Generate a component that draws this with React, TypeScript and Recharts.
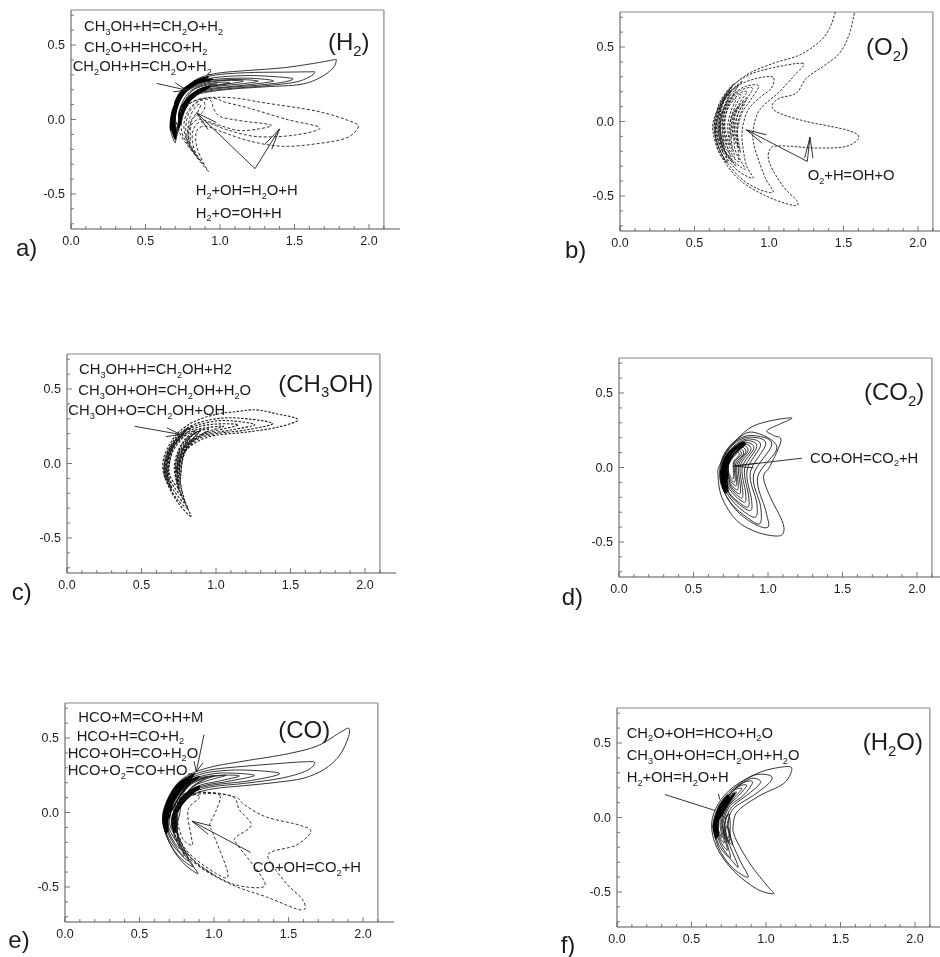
import React from "react";
import { LineChart, Line, XAxis, YAxis, ReferenceLine } from "recharts";

type Pt = [number, number];

const xMajor = [0, 0.5, 1, 1.5, 2];
const yMajor = [-0.5, 0, 0.5];
const xTicks = [0, 0.1, 0.2, 0.3, 0.4, 0.5, 0.6, 0.7, 0.8, 0.9, 1, 1.1, 1.2, 1.3, 1.4, 1.5, 1.6, 1.7, 1.8, 1.9, 2, 2.1];
const yTicks = [-0.7, -0.6, -0.5, -0.4, -0.3, -0.2, -0.1, 0, 0.1, 0.2, 0.3, 0.4, 0.5, 0.6, 0.7];

// panel a) H2
const h2Solid: Pt[][] = [
  [[0.7,-0.157],[0.675,-0.1],[0.665,-0.045],[0.672,0.03],[0.69,0.09],[0.743,0.19],[0.843,0.27],[0.978,0.31],[1.2,0.33],[1.425,0.347],[1.65,0.38],[1.76,0.4],[1.78,0.4],[1.76,0.347],[1.67,0.28],[1.537,0.235],[1.31,0.22],[1.09,0.205],[0.955,0.19],[0.843,0.165],[0.765,0.1],[0.725,0],[0.705,-0.09]],
  [[0.705,-0.135],[0.682,-0.09],[0.672,-0.04],[0.678,0.03],[0.697,0.09],[0.75,0.19],[0.85,0.265],[0.98,0.3],[1.2,0.315],[1.45,0.318],[1.6,0.32],[1.637,0.318],[1.6,0.285],[1.5,0.25],[1.3,0.226],[1.09,0.21],[0.95,0.195],[0.84,0.172],[0.77,0.105],[0.728,0],[0.71,-0.08]],
  [[0.708,-0.115],[0.688,-0.07],[0.679,-0.03],[0.684,0.03],[0.703,0.09],[0.757,0.19],[0.86,0.258],[1,0.285],[1.2,0.295],[1.4,0.285],[1.49,0.273],[1.42,0.25],[1.25,0.23],[1.05,0.215],[0.93,0.2],[0.84,0.178],[0.775,0.11],[0.733,0.01],[0.716,-0.07]],
  [[0.712,-0.095],[0.694,-0.05],[0.686,-0.02],[0.691,0.04],[0.71,0.1],[0.765,0.19],[0.87,0.25],[1,0.272],[1.2,0.277],[1.36,0.26],[1.25,0.24],[1.08,0.222],[0.93,0.207],[0.84,0.184],[0.78,0.118],[0.738,0.02],[0.722,-0.06]],
  [[0.716,-0.075],[0.698,-0.03],[0.694,0.03],[0.717,0.1],[0.775,0.19],[0.88,0.245],[1.02,0.265],[1.15,0.268],[1.257,0.257],[1.15,0.24],[1,0.225],[0.9,0.21],[0.83,0.18],[0.78,0.115],[0.743,0.03],[0.728,-0.04]],
  [[0.722,-0.055],[0.7,0],[0.703,0.05],[0.728,0.12],[0.785,0.195],[0.89,0.24],[1,0.26],[1.1,0.262],[1.157,0.257],[1.08,0.243],[0.96,0.225],[0.87,0.205],[0.81,0.165],[0.77,0.09],[0.745,0.02],[0.732,-0.03]],
  [[0.735,-0.03],[0.722,0.03],[0.745,0.11],[0.8,0.19],[0.89,0.232],[1,0.25],[1.067,0.246],[0.98,0.232],[0.88,0.212],[0.82,0.17],[0.775,0.09],[0.75,0.02]],
  [[0.74,0.02],[0.76,0.11],[0.81,0.19],[0.89,0.226],[0.98,0.24],[0.9,0.218],[0.835,0.18],[0.785,0.1]],
];
const h2Bands: Pt[][] = [
  [[0.7,0.12],[0.75,0.2],[0.84,0.252],[0.95,0.27],[0.84,0.24],[0.76,0.185],[0.705,0.09]],
  [[0.68,0.04],[0.71,0.13],[0.765,0.205],[0.87,0.258],[0.78,0.2],[0.72,0.12],[0.69,0.04]],
  [[0.7,-0.13],[0.675,-0.05],[0.685,0.05],[0.73,0.16],[0.82,0.24],[0.92,0.285],[0.83,0.255],[0.745,0.17],[0.7,0.06],[0.69,-0.04]],
  [[0.705,-0.11],[0.683,-0.04],[0.692,0.05],[0.738,0.16],[0.825,0.235],[0.9,0.27],[0.83,0.245],[0.75,0.165],[0.707,0.06],[0.697,-0.03]],
  [[0.668,-0.06],[0.675,0.02],[0.71,0.12],[0.78,0.21],[0.72,0.13],[0.682,0.03],[0.676,-0.06]],
  [[0.725,-0.05],[0.735,0.03],[0.775,0.12],[0.84,0.18],[0.92,0.21],[0.84,0.19],[0.77,0.13],[0.728,0.05]],
  [[0.73,-0.04],[0.74,0.03],[0.78,0.115],[0.845,0.175],[0.93,0.22],[0.85,0.195],[0.783,0.135],[0.744,0.055]],
  [[0.735,-0.03],[0.745,0.03],[0.785,0.11],[0.85,0.17],[0.9,0.2],[0.85,0.185],[0.79,0.125],[0.75,0.045]],
];
const h2Dashed: Pt[][] = [
  [[0.92,-0.347],[0.81,-0.21],[0.73,-0.09],[0.73,0.02],[0.8,0.11],[0.91,0.145],[1.09,0.145],[1.31,0.11],[1.65,0.056],[1.87,-0.01],[1.928,-0.05],[1.85,-0.123],[1.67,-0.16],[1.425,-0.18],[1.2,-0.145],[1,-0.078],[0.9,-0.045],[0.843,-0.078],[0.843,-0.18],[0.888,-0.29]],
  [[0.89,-0.3],[0.8,-0.19],[0.745,-0.09],[0.745,0.01],[0.79,0.1],[0.88,0.14],[0.97,0.14],[1.04,0.115],[1.2,0.075],[1.45,0],[1.67,-0.056],[1.5,-0.105],[1.25,-0.115],[1.05,-0.07],[0.93,-0.025],[0.86,-0.02],[0.82,-0.07],[0.815,-0.15],[0.84,-0.23]],
  [[0.86,-0.27],[0.79,-0.17],[0.76,-0.08],[0.765,0.01],[0.81,0.09],[0.88,0.135],[0.94,0.125],[0.955,0.08],[1,0.02],[1.15,-0.01],[1.347,-0.04],[1.15,-0.075],[1,-0.04],[0.91,-0.01],[0.85,0],[0.8,-0.05],[0.79,-0.14]],
  [[0.83,-0.23],[0.78,-0.14],[0.77,-0.06],[0.785,0.03],[0.83,0.1],[0.88,0.13],[0.9,0.09],[0.875,0.04],[0.83,0.02],[0.79,-0.05],[0.78,-0.13]],
  [[0.8,-0.16],[0.785,-0.07],[0.8,0.02],[0.84,0.09],[0.87,0.1],[0.85,0.05],[0.81,0],[0.8,-0.07]],
];
const h2Leaders: Pt[][] = [
  [[0.575,0.242],[0.776,0.197]],
  [[0.7,0.246],[0.776,0.197],[0.687,0.186]],
  [[1.4,-0.063],[1.235,-0.33],[0.843,0.045]],
  [[0.92,-0.067],[0.843,0.045],[0.975,-0.02]],
  [[1.3,-0.168],[1.4,-0.063],[1.347,-0.2]],
];

// panel b) O2
const o2Open: Pt[][] = [
  [[1.446,0.735],[1.406,0.625],[1.34,0.536],[1.205,0.446],[1.027,0.39],[0.848,0.3125],[0.714,0.19],[0.636,0.033],[0.625,-0.078],[0.68,-0.234],[0.8,-0.39],[0.98,-0.5],[1.16,-0.5625],[1.19,-0.536],[1.094,-0.435],[1.004,-0.28],[1.004,-0.19],[1.07,-0.163],[1.317,-0.178],[1.518,-0.167],[1.603,-0.105],[1.518,-0.056],[1.25,0],[1.07,0.056],[1.02,0.105],[1.07,0.156],[1.183,0.19],[1.25,0.29],[1.36,0.368],[1.473,0.458],[1.54,0.59],[1.574,0.735]],
];
const o2Dashed: Pt[][] = [
  [[1.228,0.39],[1,0.355],[0.84,0.3],[0.72,0.2],[0.645,0.04],[0.635,-0.08],[0.69,-0.23],[0.8,-0.37],[0.92,-0.45],[1.027,-0.475],[0.98,-0.39],[0.9375,-0.28],[0.9,-0.16],[0.893,-0.06],[0.9375,0.078],[1.07,0.2],[1.17,0.31]],
  [[1.027,0.297],[0.92,0.29],[0.8,0.245],[0.71,0.16],[0.655,0.03],[0.645,-0.08],[0.7,-0.22],[0.79,-0.33],[0.893,-0.38],[0.85,-0.3],[0.826,-0.18],[0.82,-0.06],[0.86,0.078],[0.95,0.17],[1.016,0.223]],
  [[0.93,0.24],[0.84,0.235],[0.76,0.18],[0.695,0.09],[0.665,0],[0.665,-0.1],[0.71,-0.21],[0.79,-0.29],[0.84,-0.32],[0.8,-0.24],[0.79,-0.14],[0.79,-0.05],[0.82,0.06],[0.88,0.15]],
  [[0.89,0.22],[0.81,0.21],[0.74,0.15],[0.69,0.06],[0.675,-0.03],[0.685,-0.12],[0.73,-0.21],[0.8,-0.27],[0.77,-0.18],[0.765,-0.09],[0.775,0],[0.81,0.09]],
  [[0.85,0.2],[0.78,0.18],[0.72,0.11],[0.69,0.03],[0.685,-0.05],[0.7,-0.13],[0.745,-0.21],[0.77,-0.24],[0.75,-0.15],[0.745,-0.06],[0.76,0.03],[0.8,0.12]],
  [[0.81,0.18],[0.75,0.14],[0.71,0.08],[0.695,0],[0.7,-0.08],[0.73,-0.16],[0.755,-0.2],[0.735,-0.11],[0.735,-0.03],[0.76,0.07]],
  [[0.78,0.155],[0.73,0.1],[0.705,0.03],[0.705,-0.05],[0.725,-0.13],[0.74,-0.16],[0.725,-0.08],[0.725,-0.01],[0.745,0.07]],
  [[0.75,0.23],[0.69,0.14],[0.65,0.04],[0.64,-0.06],[0.665,-0.18],[0.72,-0.28],[0.7,-0.17],[0.675,-0.07],[0.68,0.03],[0.71,0.13]],
  [[0.72,0.19],[0.67,0.1],[0.65,0],[0.655,-0.1],[0.69,-0.21],[0.675,-0.12],[0.665,-0.03],[0.675,0.07]],
  [[0.79,0.24],[0.7,0.15],[0.66,0.05],[0.65,-0.05],[0.68,-0.16],[0.75,-0.27],[0.72,-0.17],[0.7,-0.07],[0.71,0.04],[0.74,0.14]],
  [[0.76,0.25],[0.68,0.15],[0.642,0.04],[0.634,-0.06],[0.66,-0.17],[0.71,-0.27],[0.66,-0.2],[0.64,-0.1],[0.65,0.02],[0.69,0.13]],
  [[0.82,0.27],[0.71,0.17],[0.668,0.06],[0.658,-0.05],[0.69,-0.17],[0.78,-0.3],[0.7,-0.2],[0.67,-0.07],[0.685,0.05],[0.73,0.16]],
  [[0.74,0.2],[0.69,0.12],[0.672,0.03],[0.67,-0.06],[0.695,-0.17],[0.69,-0.07],[0.69,0.02],[0.71,0.1]],
  [[0.83,0.13],[0.77,0.07],[0.75,0],[0.76,-0.09],[0.79,-0.17],[0.78,-0.08],[0.78,0],[0.8,0.07]],
  [[0.85,0.16],[0.79,0.09],[0.765,0],[0.775,-0.1],[0.81,-0.21],[0.79,-0.1],[0.79,-0.01],[0.82,0.08]],
  [[0.8,0.1],[0.755,0.05],[0.738,-0.02],[0.75,-0.11],[0.76,-0.02],[0.77,0.04]],
];
const o2Leaders: Pt[][] = [
  [[1.257,-0.268],[0.848,-0.056]],
  [[0.982,-0.089],[0.848,-0.056],[0.953,-0.145]],
  [[1.257,-0.268],[1.275,-0.105]],
  [[1.239,-0.246],[1.275,-0.105],[1.295,-0.246]],
];

// panel c) CH3OH
const ch3ohDashed: Pt[][] = [
  [[0.832,-0.353],[0.75,-0.27],[0.68,-0.15],[0.645,-0.05],[0.65,0.04],[0.69,0.13],[0.75,0.21],[0.85,0.28],[1,0.33],[1.15,0.35],[1.27,0.36],[1.4,0.335],[1.55,0.295],[1.42,0.245],[1.2,0.21],[1,0.19],[0.88,0.15],[0.79,0.08],[0.74,-0.01],[0.73,-0.09],[0.76,-0.2]],
  [[0.81,-0.3],[0.74,-0.24],[0.68,-0.14],[0.655,-0.05],[0.66,0.04],[0.7,0.13],[0.76,0.205],[0.86,0.265],[1,0.3],[1.15,0.305],[1.38,0.27],[1.2,0.225],[1,0.2],[0.88,0.165],[0.8,0.09],[0.75,0],[0.74,-0.09],[0.76,-0.19]],
  [[0.79,-0.26],[0.73,-0.2],[0.68,-0.12],[0.665,-0.05],[0.67,0.04],[0.71,0.13],[0.77,0.2],[0.87,0.255],[1,0.285],[1.12,0.285],[1.26,0.26],[1.1,0.225],[0.95,0.2],[0.87,0.17],[0.8,0.1],[0.76,0.01],[0.745,-0.08]],
  [[0.77,-0.21],[0.72,-0.16],[0.68,-0.09],[0.675,-0.03],[0.685,0.05],[0.72,0.13],[0.78,0.19],[0.88,0.245],[1,0.265],[1.15,0.26],[1,0.22],[0.9,0.19],[0.81,0.12],[0.77,0.02],[0.755,-0.07]],
  [[0.75,-0.16],[0.705,-0.11],[0.685,-0.05],[0.695,0.05],[0.73,0.13],[0.79,0.185],[0.88,0.23],[1.05,0.25],[0.92,0.205],[0.83,0.145],[0.78,0.04],[0.765,-0.06]],
  [[0.95,0.23],[0.85,0.2],[0.78,0.14],[0.74,0.07],[0.72,-0.02],[0.73,-0.1],[0.745,-0.12],[0.74,-0.03],[0.77,0.06],[0.82,0.13]],
  [[0.89,0.215],[0.81,0.165],[0.76,0.09],[0.73,0],[0.735,-0.06],[0.75,0.04],[0.79,0.11]],
  [[0.78,0.2],[0.7,0.12],[0.66,0.03],[0.655,-0.06],[0.69,-0.15],[0.67,-0.05],[0.675,0.03],[0.71,0.11]],
  [[0.8,0.22],[0.71,0.13],[0.67,0.04],[0.663,-0.06],[0.7,-0.17],[0.68,-0.06],[0.685,0.03],[0.72,0.12]],
  [[0.83,0.16],[0.77,0.1],[0.735,0.02],[0.73,-0.07],[0.75,-0.18],[0.745,-0.07],[0.75,0.02],[0.78,0.09]],
  [[0.81,0.24],[0.73,0.16],[0.68,0.07],[0.65,-0.03],[0.66,-0.1],[0.665,-0.02],[0.69,0.07],[0.74,0.15]],
  [[0.84,0.25],[0.75,0.18],[0.695,0.09],[0.672,0],[0.672,-0.1],[0.685,-0.01],[0.71,0.08],[0.765,0.16]],
  [[0.86,0.22],[0.79,0.16],[0.75,0.08],[0.74,-0.02],[0.74,-0.13],[0.755,-0.03],[0.765,0.07],[0.81,0.15]],
  [[0.9,0.23],[0.82,0.17],[0.775,0.09],[0.755,0],[0.76,-0.1],[0.77,0],[0.79,0.08],[0.84,0.16]],
];
const ch3ohLeaders: Pt[][] = [
  [[0.454,0.25],[0.76,0.195]],
  [[0.67,0.24],[0.76,0.195],[0.664,0.18]],
];

// panel d) CO2
const co2Solid: Pt[][] = [
  [[1.16,0.333],[1,0.31],[0.87,0.26],[0.75,0.14],[0.68,0.025],[0.664,-0.042],[0.69,-0.2],[0.79,-0.356],[0.926,-0.434],[1.06,-0.46],[1.105,-0.434],[1.094,-0.356],[1.016,-0.2],[0.97,-0.065],[1.016,0.013],[1.087,0.18],[1.038,0.215],[0.993,0.248],[1.083,0.293]],
  [[0.9,0.237],[1.06,0.136],[0.93,-0.065],[0.985,-0.29],[1,-0.4],[0.9,-0.375],[0.78,-0.28],[0.7,-0.15],[0.675,-0.04],[0.7,0.08],[0.78,0.18]],
  [[0.89,0.215],[1.026,0.159],[0.903,-0.05],[0.95,-0.26],[0.945,-0.378],[0.86,-0.335],[0.76,-0.25],[0.695,-0.14],[0.68,-0.04],[0.705,0.08],[0.78,0.175]],
  [[0.88,0.204],[0.985,0.16],[0.881,-0.035],[0.925,-0.24],[0.915,-0.333],[0.83,-0.29],[0.75,-0.21],[0.7,-0.12],[0.685,-0.04],[0.71,0.08],[0.785,0.17]],
  [[0.87,0.192],[0.95,0.15],[0.859,-0.02],[0.89,-0.22],[0.882,-0.289],[0.81,-0.25],[0.745,-0.185],[0.705,-0.11],[0.69,-0.04],[0.715,0.075],[0.79,0.16]],
  [[0.86,0.181],[0.925,0.14],[0.843,-0.01],[0.87,-0.19],[0.865,-0.266],[0.8,-0.23],[0.74,-0.17],[0.71,-0.1],[0.695,-0.035],[0.72,0.07],[0.79,0.15]],
  [[0.85,0.17],[0.905,0.13],[0.827,0],[0.85,-0.17],[0.845,-0.233],[0.79,-0.2],[0.745,-0.15],[0.715,-0.09],[0.7,-0.03],[0.725,0.065],[0.79,0.145]],
  [[0.845,0.159],[0.885,0.12],[0.814,0.01],[0.83,-0.15],[0.825,-0.204],[0.78,-0.175],[0.745,-0.13],[0.72,-0.08],[0.705,-0.03],[0.73,0.06],[0.79,0.135]],
  [[0.84,0.147],[0.865,0.11],[0.803,0.015],[0.815,-0.13],[0.81,-0.177],[0.77,-0.15],[0.745,-0.115],[0.725,-0.07],[0.71,-0.025],[0.735,0.06],[0.79,0.125]],
  [[0.83,0.136],[0.85,0.1],[0.792,0.02],[0.8,-0.11],[0.795,-0.15],[0.765,-0.13],[0.745,-0.1],[0.73,-0.06],[0.715,-0.02],[0.74,0.055],[0.785,0.115]],
  [[0.82,0.125],[0.835,0.09],[0.783,0.025],[0.79,-0.09],[0.785,-0.123],[0.76,-0.105],[0.745,-0.085],[0.733,-0.05],[0.72,-0.015],[0.745,0.05],[0.785,0.105]],
  [[0.81,0.114],[0.82,0.085],[0.774,0.03],[0.78,-0.07],[0.775,-0.098],[0.755,-0.085],[0.74,-0.065],[0.725,-0.01],[0.75,0.05],[0.785,0.095]],
  [[0.8,0.103],[0.805,0.08],[0.768,0.035],[0.77,-0.05],[0.765,-0.076],[0.748,-0.06],[0.73,-0.005],[0.752,0.05],[0.782,0.085]],
];
const co2Bands: Pt[][] = [
  [[0.8,0.15],[0.73,0.09],[0.69,0],[0.685,-0.08],[0.71,-0.16],[0.7,-0.06],[0.705,0.02],[0.74,0.09]],
  [[0.82,0.165],[0.74,0.1],[0.7,0.02],[0.692,-0.08],[0.72,-0.17],[0.71,-0.07],[0.712,0.02],[0.75,0.1]],
  [[0.84,0.17],[0.75,0.11],[0.71,0.03],[0.7,-0.06],[0.73,-0.16],[0.72,-0.06],[0.722,0.02],[0.76,0.1]],
  [[0.85,0.16],[0.76,0.11],[0.72,0.04],[0.71,-0.05],[0.715,-0.1],[0.73,-0.05],[0.735,0.03],[0.77,0.09]],
];
const co2Leaders: Pt[][] = [
  [[1.228,0.0626],[0.77,0.009]],
  [[0.926,0.029],[0.77,0.009],[0.903,-0.002]],
];

// panel e) CO
const coSolid: Pt[][] = [
  [[0.893,-0.41],[0.8,-0.345],[0.72,-0.24],[0.665,-0.11],[0.655,-0.02],[0.68,0.07],[0.72,0.15],[0.78,0.22],[0.87,0.27],[1,0.31],[1.2,0.345],[1.5,0.395],[1.7,0.45],[1.85,0.54],[1.906,0.564],[1.9,0.5],[1.84,0.38],[1.74,0.29],[1.6,0.23],[1.4,0.2],[1.2,0.18],[1,0.16],[0.87,0.125],[0.78,0.06],[0.725,-0.02],[0.72,-0.1],[0.75,-0.2],[0.82,-0.31]],
  [[0.86,-0.36],[0.77,-0.3],[0.7,-0.2],[0.665,-0.1],[0.662,-0.02],[0.685,0.07],[0.725,0.15],[0.785,0.215],[0.88,0.26],[1,0.29],[1.2,0.31],[1.45,0.33],[1.6,0.34],[1.676,0.335],[1.62,0.28],[1.45,0.23],[1.2,0.195],[1,0.175],[0.87,0.14],[0.785,0.075],[0.73,-0.01],[0.725,-0.1],[0.76,-0.2]],
  [[0.83,-0.32],[0.74,-0.24],[0.685,-0.15],[0.67,-0.06],[0.672,0.02],[0.695,0.08],[0.735,0.15],[0.795,0.21],[0.89,0.25],[1,0.275],[1.2,0.285],[1.44,0.262],[1.25,0.215],[1,0.185],[0.87,0.15],[0.79,0.085],[0.738,0],[0.732,-0.09]],
  [[0.8,-0.29],[0.73,-0.21],[0.685,-0.12],[0.678,-0.04],[0.7,0.07],[0.745,0.15],[0.805,0.205],[0.9,0.24],[1.05,0.265],[1.27,0.25],[1.1,0.21],[0.95,0.185],[0.86,0.155],[0.795,0.095],[0.745,0.01],[0.74,-0.1]],
  [[0.77,-0.24],[0.71,-0.16],[0.686,-0.07],[0.708,0.07],[0.755,0.15],[0.815,0.2],[0.91,0.235],[1.05,0.25],[1.17,0.245],[1.03,0.21],[0.9,0.18],[0.81,0.11],[0.752,0.02],[0.748,-0.1]],
  [[0.75,-0.19],[0.7,-0.11],[0.694,-0.03],[0.72,0.07],[0.77,0.15],[0.83,0.195],[0.92,0.23],[1.08,0.25],[0.96,0.215],[0.86,0.175],[0.8,0.1],[0.76,0.02],[0.755,-0.09]],
  [[0.73,-0.13],[0.702,-0.06],[0.73,0.06],[0.785,0.14],[0.84,0.195],[0.93,0.23],[1,0.245],[0.9,0.205],[0.83,0.15],[0.785,0.07],[0.765,-0.03]],
  [[0.745,0.02],[0.795,0.13],[0.85,0.19],[0.95,0.235],[0.87,0.18],[0.81,0.11],[0.77,0.03]],
];
const coBands: Pt[][] = [
  [[0.71,0.03],[0.75,0.12],[0.82,0.2],[0.9,0.24],[0.83,0.185],[0.77,0.11],[0.72,0.02]],
  [[0.69,-0.02],[0.715,0.07],[0.77,0.16],[0.85,0.22],[0.78,0.15],[0.725,0.07],[0.7,-0.03]],
  [[0.675,-0.13],[0.658,-0.05],[0.67,0.03],[0.71,0.12],[0.77,0.2],[0.87,0.26],[0.78,0.195],[0.72,0.115],[0.68,0.025],[0.67,-0.05]],
  [[0.68,-0.14],[0.667,-0.06],[0.678,0.02],[0.717,0.11],[0.78,0.19],[0.86,0.245],[0.79,0.185],[0.73,0.105],[0.69,0.02],[0.68,-0.05]],
  [[0.69,-0.13],[0.677,-0.05],[0.69,0.02],[0.73,0.11],[0.79,0.185],[0.85,0.23],[0.8,0.175],[0.74,0.1],[0.7,0.02],[0.688,-0.05]],
  [[0.72,-0.1],[0.722,-0.02],[0.76,0.06],[0.82,0.125],[0.9,0.16],[0.825,0.135],[0.77,0.075],[0.733,0],[0.728,-0.08]],
  [[0.73,-0.13],[0.73,-0.03],[0.767,0.05],[0.825,0.115],[0.9,0.17],[0.83,0.14],[0.775,0.08],[0.74,0.01],[0.736,-0.09]],
  [[0.74,-0.13],[0.737,-0.04],[0.775,0.04],[0.83,0.105],[0.9,0.175],[0.84,0.145],[0.78,0.085],[0.748,0.01],[0.745,-0.09]],
];
const coDashed: Pt[][] = [
  [[0.86,0.139],[1.127,0.11],[1.206,0.05],[1.35,-0.03],[1.575,-0.085],[1.649,-0.13],[1.55,-0.22],[1.385,-0.264],[1.37,-0.32],[1.485,-0.476],[1.597,-0.588],[1.586,-0.655],[1.35,-0.566],[1.127,-0.488],[0.904,-0.365],[0.77,-0.23],[0.725,-0.074],[0.736,0.038],[0.78,0.105]],
  [[1.127,0.105],[1.172,0.015],[1.25,-0.085],[1.15,-0.164],[1.15,-0.208],[1.306,-0.41],[1.33,-0.5],[1.127,-0.48],[0.92,-0.365],[0.785,-0.23],[0.735,-0.074],[0.746,0.04],[0.8,0.11],[0.95,0.135]],
  [[1.038,0.116],[1.015,0.015],[0.97,-0.085],[0.993,-0.14],[1.094,-0.414],[1.016,-0.41],[0.814,-0.253],[0.745,-0.074],[0.758,0.04],[0.814,0.105],[0.92,0.125]],
  [[0.904,0.105],[0.825,0.015],[0.848,-0.164],[0.854,-0.22],[0.79,-0.175],[0.75,-0.03],[0.765,0.082],[0.814,0.116]],
  [[0.8,-0.25],[0.87,-0.33],[1,-0.42],[0.9,-0.36],[0.81,-0.26]],
];
const coLeaders: Pt[][] = [
  [[1.246,-0.268],[0.852,-0.058]],
  [[0.982,-0.09],[0.852,-0.058],[0.96,-0.145]],
  [[0.933,0.523],[0.881,0.273]],
  [[0.866,0.345],[0.881,0.273],[0.926,0.333]],
];

// panel f) H2O
const h2oSolid: Pt[][] = [
  [[1.172,0.315],[1.139,0.342],[0.96,0.304],[0.78,0.204],[0.68,0.092],[0.635,-0.043],[0.669,-0.199],[0.78,-0.356],[0.937,-0.479],[1.05,-0.512],[1.016,-0.468],[0.893,-0.311],[0.792,-0.132],[0.781,-0.043],[0.814,0.047],[0.96,0.148],[1.116,0.226]],
  [[1.027,0.282],[0.915,0.282],[0.78,0.192],[0.69,0.09],[0.647,-0.043],[0.68,-0.199],[0.77,-0.333],[0.88,-0.4],[0.825,-0.288],[0.758,-0.132],[0.747,-0.043],[0.78,0.058],[0.915,0.148],[1.027,0.237]],
  [[0.96,0.248],[0.893,0.26],[0.78,0.181],[0.703,0.08],[0.652,-0.043],[0.685,-0.188],[0.77,-0.288],[0.814,-0.333],[0.77,-0.22],[0.725,-0.11],[0.725,-0.03],[0.77,0.07],[0.87,0.148],[0.949,0.215]],
  [[0.91,0.237],[0.85,0.235],[0.77,0.17],[0.7,0.07],[0.656,-0.04],[0.69,-0.17],[0.76,-0.27],[0.74,-0.18],[0.715,-0.09],[0.715,-0.02],[0.76,0.08],[0.85,0.15]],
  [[0.87,0.215],[0.82,0.21],[0.76,0.16],[0.7,0.06],[0.66,-0.035],[0.69,-0.15],[0.74,-0.22],[0.722,-0.14],[0.71,-0.07],[0.71,-0.01],[0.75,0.08],[0.82,0.15]],
  [[0.837,0.192],[0.79,0.185],[0.74,0.13],[0.69,0.05],[0.665,-0.03],[0.69,-0.13],[0.72,-0.17],[0.705,-0.09],[0.7,-0.03],[0.72,0.04],[0.78,0.125]],
  [[0.803,0.17],[0.76,0.15],[0.71,0.08],[0.675,0],[0.67,-0.05],[0.695,-0.12],[0.705,-0.13],[0.692,-0.05],[0.7,0.03],[0.75,0.11]],
  [[0.77,0.14],[0.71,0.08],[0.67,0],[0.668,-0.08],[0.68,-0.07],[0.682,0],[0.72,0.07]],
  [[0.76,-0.06],[0.745,-0.14],[0.72,-0.1],[0.725,-0.03],[0.75,0.02]],
  [[0.76,-0.1],[0.75,-0.17],[0.73,-0.13],[0.735,-0.06]],
  [[0.755,0.02],[0.74,-0.05],[0.76,-0.12],[0.775,-0.18],[0.75,-0.16],[0.727,-0.08],[0.73,0]],
];
const h2oBands: Pt[][] = [
  [[0.745,0.15],[0.69,0.08],[0.66,0],[0.645,-0.06],[0.665,-0.14],[0.66,-0.05],[0.675,0.02],[0.705,0.08]],
  [[0.75,0.14],[0.695,0.07],[0.668,0],[0.655,-0.06],[0.672,-0.13],[0.668,-0.05],[0.682,0.02],[0.71,0.07]],
  [[0.76,0.13],[0.7,0.06],[0.675,0],[0.664,-0.06],[0.68,-0.12],[0.676,-0.05],[0.69,0.01],[0.72,0.06]],
  [[0.79,0.16],[0.73,0.1],[0.695,0.04],[0.67,-0.01],[0.7,0.01],[0.73,0.07]],
];
const h2oLeaders: Pt[][] = [
  [[0.322,0.154],[0.658,0.047]],
  [[0.68,0.159],[0.69,0.12]],
];

const BODY = 14.8;
const TITLE = 24;
const TAG = 24;

const h2Labels: [string, number, number, number][] = [
  ["CH_3OH+H=CH_2O+H_2", 84, 31, BODY],
  ["CH_2O+H=HCO+H_2", 84, 51.7, BODY],
  ["CH_2OH+H=CH_2O+H_2", 72.7, 71, BODY],
  ["H_2+OH=H_2O+H", 195.7, 195, BODY],
  ["H_2+O=OH+H", 195.7, 217.7, BODY],
  ["(H_2)", 328, 50, TITLE],
  ["a)", 16, 256, TAG],
];
const o2Labels: [string, number, number, number][] = [
  ["O_2+H=OH+O", 807.7, 180, BODY],
  ["(O_2)", 866, 55, TITLE],
  ["b)", 565, 258, TAG],
];
const ch3ohLabels: [string, number, number, number][] = [
  ["CH_3OH+H=CH_2OH+H2", 79, 374, BODY],
  ["CH_3OH+OH=CH_2OH+H_2O", 78.3, 395, BODY],
  ["CH_3OH+O=CH_2OH+OH", 68.3, 415, BODY],
  ["(CH_3OH)", 278.3, 391.7, TITLE],
  ["c)", 11.7, 600, TAG],
];
const co2Labels: [string, number, number, number][] = [
  ["CO+OH=CO_2+H", 810, 462.7, BODY],
  ["(CO_2)", 864, 400, TITLE],
  ["d)", 561.7, 605, TAG],
];
const coLabels: [string, number, number, number][] = [
  ["HCO+M=CO+H+M", 78.3, 722.3, BODY],
  ["HCO+H=CO+H_2", 76.7, 740.7, BODY],
  ["HCO+OH=CO+H_2O", 67.7, 757.7, BODY],
  ["HCO+O_2=CO+HO_2", 67.7, 775, BODY],
  ["CO+OH=CO_2+H", 252.7, 872.3, BODY],
  ["(CO)", 278.3, 738.3, TITLE],
  ["e)", 8.3, 948, TAG],
];
const h2oLabels: [string, number, number, number][] = [
  ["CH_2O+OH=HCO+H_2O", 626.7, 737.7, BODY],
  ["CH_3OH+OH=CH_2OH+H_2O", 626.7, 760, BODY],
  ["H_2+OH=H_2O+H", 626.7, 782.3, BODY],
  ["(H_2O)", 862.7, 750, TITLE],
  ["f)", 560.7, 953, TAG],
];
const allLabels = [...h2Labels, ...o2Labels, ...ch3ohLabels, ...co2Labels, ...coLabels, ...h2oLabels];

const AXIS_W = 48;
const PLOT_TOP = 8;
const PLOT_W = 329;
const PLOT_H = 219;
const XMAX = 2.208;
const YMAX = 0.735;
const INK = "#1e1e1e";

// catmull-rom through the read points, the contours in the picture are smooth
function contourCurve(context: any) {
  let pts: number[][] = [];
  return {
    areaStart() {},
    areaEnd() {},
    lineStart() {
      pts = [];
    },
    point(x: number, y: number) {
      pts.push([+x, +y]);
    },
    lineEnd() {
      if (!pts.length) return;
      const n = pts.length;
      const closed = n > 3 && pts[0][0] === pts[n - 1][0] && pts[0][1] === pts[n - 1][1];
      context.moveTo(pts[0][0], pts[0][1]);
      for (let i = 0; i < n - 1; i++) {
        const p1 = pts[i];
        const p2 = pts[i + 1];
        const p0 = i > 0 ? pts[i - 1] : closed ? pts[n - 2] : p1;
        const p3 = i < n - 2 ? pts[i + 2] : closed ? pts[1] : p2;
        context.bezierCurveTo(
          p1[0] + (p2[0] - p0[0]) / 6,
          p1[1] + (p2[1] - p0[1]) / 6,
          p2[0] - (p3[0] - p1[0]) / 6,
          p2[1] - (p3[1] - p1[1]) / 6,
          p2[0],
          p2[1]
        );
      }
    },
  };
}

const toRows = (pts: Pt[]) => pts.map(([x, y]) => ({ x, y }));
const closeLoop = (pts: Pt[]) => toRows([...pts, pts[0]]);

const XTick = ({ x, y, payload }: any) => {
  const major = xMajor.includes(payload.value);
  return (
    <g>
      <line x1={x} x2={x} y1={y} y2={y - (major ? 5 : 3)} stroke="#555" strokeWidth={0.8} />
      {major && (
        <text x={x} y={y + 16} textAnchor="middle" fontSize={12.5} fill={INK} fontFamily="Liberation Sans">
          {payload.value.toFixed(1)}
        </text>
      )}
    </g>
  );
};

const YTick = ({ x, y, payload }: any) => {
  const major = yMajor.includes(payload.value);
  return (
    <g>
      <line x1={x} x2={x + (major ? 5 : 3)} y1={y} y2={y} stroke="#555" strokeWidth={0.8} />
      {major && (
        <text x={x - 6} y={y + 4} textAnchor="end" fontSize={12.5} fill={INK} fontFamily="Liberation Sans">
          {payload.value.toFixed(1)}
        </text>
      )}
    </g>
  );
};

function Panel({
  left,
  top,
  solid = [],
  bands = [],
  dashed = [],
  open = [],
  leaders = [],
  dash = "3 2",
  dashWidth = 0.9,
}: {
  left: number;
  top: number;
  solid?: Pt[][];
  bands?: Pt[][];
  dashed?: Pt[][];
  open?: Pt[][];
  leaders?: Pt[][];
  dash?: string;
  dashWidth?: number;
}) {
  return (
    <div style={{ position: "absolute", left: left - AXIS_W, top: top - PLOT_TOP }}>
      <LineChart
        width={AXIS_W + PLOT_W}
        height={PLOT_TOP + PLOT_H + 30}
        margin={{ top: PLOT_TOP, right: 0, bottom: 0, left: 0 }}
      >
        <XAxis
          type="number"
          dataKey="x"
          domain={[0, XMAX]}
          ticks={xTicks}
          interval={0}
          height={30}
          tickSize={0}
          tickMargin={0}
          tickLine={false}
          tick={XTick}
          allowDataOverflow
          stroke="#555"
        />
        <YAxis
          type="number"
          dataKey="y"
          domain={[-YMAX, YMAX]}
          ticks={yTicks}
          interval={0}
          width={AXIS_W}
          tickSize={0}
          tickMargin={0}
          tickLine={false}
          tick={YTick}
          allowDataOverflow
          stroke="#555"
        />
        <ReferenceLine segment={[{ x: 0, y: YMAX }, { x: 2.1, y: YMAX }]} stroke="#888" strokeWidth={1.2} />
        <ReferenceLine segment={[{ x: 2.1, y: -YMAX }, { x: 2.1, y: YMAX }]} stroke="#888" strokeWidth={1.2} />
        {solid.map((c, i) => (
          <Line key={`s${i}`} data={closeLoop(c)} dataKey="y" type={contourCurve as any} stroke={INK} strokeWidth={0.9} dot={false} activeDot={false} isAnimationActive={false} />
        ))}
        {/* the contours are packed too tight to tell apart here, so these read as a black band */}
        {bands.map((c, i) => (
          <Line key={`b${i}`} data={closeLoop(c)} dataKey="y" type={contourCurve as any} stroke="#000" strokeWidth={1.6} dot={false} activeDot={false} isAnimationActive={false} />
        ))}
        {dashed.map((c, i) => (
          <Line key={`d${i}`} data={closeLoop(c)} dataKey="y" type={contourCurve as any} stroke={INK} strokeWidth={dashWidth} strokeDasharray={dash} dot={false} activeDot={false} isAnimationActive={false} />
        ))}
        {open.map((c, i) => (
          <Line key={`o${i}`} data={toRows(c)} dataKey="y" type={contourCurve as any} stroke={INK} strokeWidth={dashWidth} strokeDasharray={dash} dot={false} activeDot={false} isAnimationActive={false} />
        ))}
        {leaders.map((c, i) => (
          <Line key={`l${i}`} data={toRows(c)} dataKey="y" type="linear" stroke={INK} strokeWidth={0.9} dot={false} activeDot={false} isAnimationActive={false} />
        ))}
      </LineChart>
    </div>
  );
}

// "_" marks the next character as a subscript
function Formula({ text, x, y, size }: { text: string; x: number; y: number; size: number }) {
  const parts: React.ReactNode[] = [];
  let plain = "";
  let pendingUp = 0;
  const sub = size * 0.24;
  for (let i = 0; i < text.length; i++) {
    if (text[i] === "_") {
      parts.push(<tspan key={`p${i}`} dy={pendingUp}>{plain}</tspan>);
      plain = "";
      pendingUp = -sub;
      parts.push(<tspan key={`s${i}`} dy={sub} fontSize={size * 0.62}>{text[i + 1]}</tspan>);
      i++;
    } else {
      plain += text[i];
    }
  }
  parts.push(<tspan key="end" dy={pendingUp}>{plain}</tspan>);
  return (
    <text x={x} y={y} fontSize={size} fill="#1c1c1c" fontFamily="Liberation Sans">
      {parts}
    </text>
  );
}

export default function App() {
  return (
    <div style={{ position: "absolute", left: 0, top: 0, width: 940, height: 957, overflow: "hidden", background: "#fff", filter: "blur(0.35px)" }}>
      <Panel left={71} top={10} solid={h2Solid} bands={h2Bands} dashed={h2Dashed} leaders={h2Leaders} />
      <Panel left={620} top={12.3} dashed={o2Dashed} open={o2Open} leaders={o2Leaders} dash="2.5 1.5" />
      <Panel left={66.7} top={354.3} dashed={ch3ohDashed} leaders={ch3ohLeaders} dash="2.5 1.5" dashWidth={1.1} />
      <Panel left={618.7} top={357.7} solid={co2Solid} bands={co2Bands} leaders={co2Leaders} />
      <Panel left={65.3} top={703.3} solid={coSolid} bands={coBands} dashed={coDashed} leaders={coLeaders} />
      <Panel left={617} top={707.7} solid={h2oSolid} bands={h2oBands} leaders={h2oLeaders} />
      <svg width={940} height={957} style={{ position: "absolute", left: 0, top: 0, pointerEvents: "none" }}>
        {allLabels.map(([t, x, y, s]) => (
          <Formula key={`${t}${x}${y}`} text={t} x={x} y={y} size={s} />
        ))}
      </svg>
    </div>
  );
}
